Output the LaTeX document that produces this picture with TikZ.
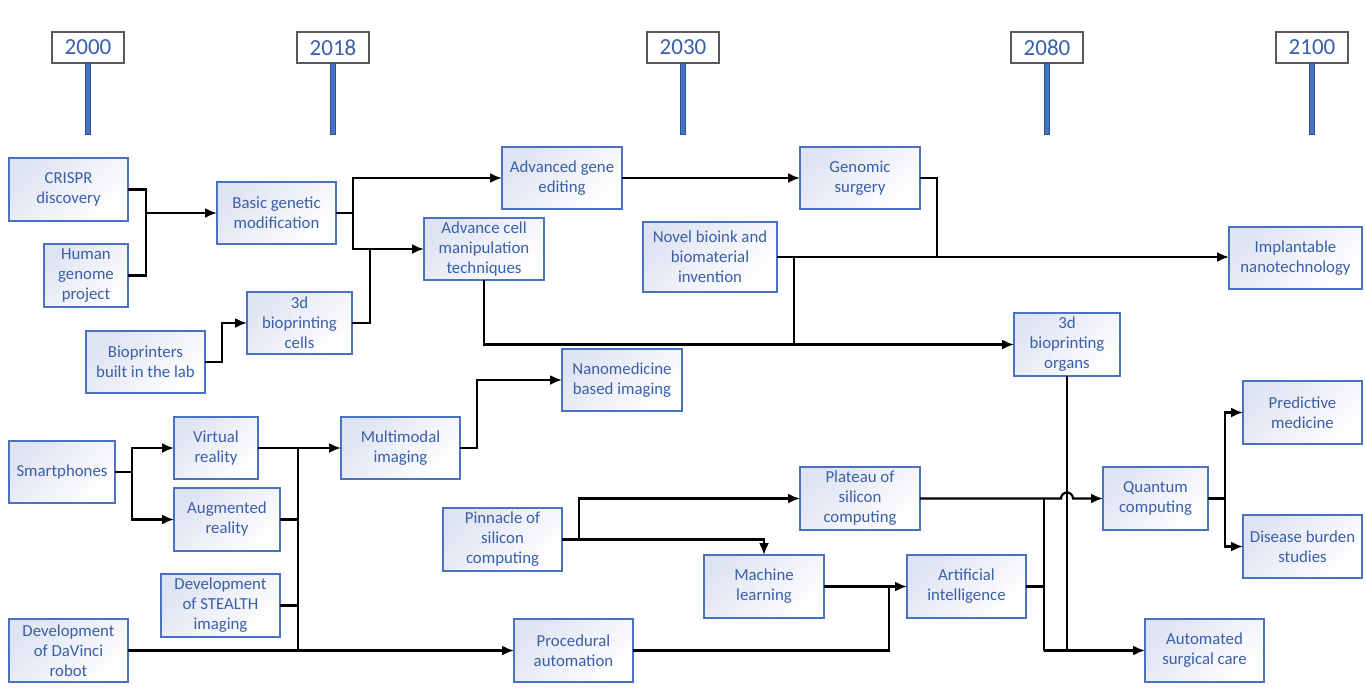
\documentclass[tikz,border=0pt]{standalone}
\usepackage{fontspec}
\setmainfont{Carlito}
\usepackage{tikz}
\usetikzlibrary{arrows.meta,calc,fit,positioning}

\definecolor{boxblue}{HTML}{4A72C0}
\definecolor{txtblue}{HTML}{3A5FA8}
\definecolor{poleblue}{HTML}{4472C4}
\definecolor{boxshade}{HTML}{DFE4F2}
\newcommand\boxfont{\fontsize{16.8}{20}\selectfont}
\newcommand\yearfont{\fontsize{23}{26}\selectfont}

\tikzset{
  box/.style={draw=boxblue, line width=1.3pt, top color=boxshade, bottom color=white, shading angle=45},
  yearbox/.style={draw=black!65, line width=1.2pt, fill=white},
  pole/.style={draw=poleblue!70!black, fill=poleblue, line width=0.6pt, minimum width=5pt, minimum height=71pt, inner sep=0pt},
  every label/.style={align=center, text=txtblue, font=\boxfont}
}

\begin{document}
\begin{tikzpicture}[>={Latex[length=12pt,width=10pt]},x=1pt,y=-1pt,line width=2.2pt, every fit/.style={inner sep=0pt, outer sep=0pt}]
  \useasboundingbox (0,0) rectangle (1366,689);

  % timeline
  \foreach \yr/\x in {2000/88, 2018/333, 2030/683, 2080/1047, 2100/1312}{
    \node (y\yr) [yearbox, fit={(\x-36,32) (\x+36,63)}, label={[font=\yearfont]center:\yr}] {};
    \node (p\yr) [pole, below=0pt of y\yr] {};
  }

  % genetics
  \node (crispr) [box, fit={(9,158) (128,221)}, label=center:{CRISPR\\discovery}] {};
  \node (genome) [box, fit={(44,244) (128,307)}, label=center:{Human\\genome\\project}] {};
  \node (basic) [box, fit={(217,182) (336,244)}, label=center:{Basic genetic\\modification}] {};
  \node (lab) [box, fit={(86,331) (205,393)}, label=center:{Bioprinters\\built in the lab}] {};
  \node (cells) [box, fit={(247,292) (352,354)}, label=center:{3d\\bioprinting\\cells}] {};
  \node (gene) [box, fit={(502,147) (622,209)}, label=center:{Advanced gene\\editing}] {};
  \node (manip) [box, fit={(424,218) (544,280)}, label=center:{Advance cell\\manipulation\\techniques}] {};
  \node (surgery) [box, fit={(800,147) (920,209)}, label=center:{Genomic\\surgery}] {};
  \node (bioink) [box, fit={(643,222) (777,292)}, label=center:{Novel bioink and\\biomaterial\\invention}] {};
  \node (implant) [box, fit={(1229,227) (1362,289)}, label=center:{Implantable\\nanotechnology}] {};
  \node (organs) [box, fit={(1014,313) (1120,376)}, label=center:{3d\\bioprinting\\organs}] {};

  % imaging and computing
  \node (phones) [box, fit={(9,441) (115,503)}, label=center:{Smartphones}] {};
  \node (vr) [box, fit={(174,417) (258,479)}, label=center:{Virtual\\reality}] {};
  \node (ar) [box, fit={(174,488) (280,551)}, label=center:{Augmented\\reality}] {};
  \node (stealth) [box, fit={(161,574) (280,637)}, label=center:{Development\\of STEALTH\\imaging}] {};
  \node (davinci) [box, fit={(9,619) (128,682)}, label=center:{Development\\of DaVinci\\robot}] {};
  \node (multi) [box, fit={(341,417) (460,479)}, label=center:{Multimodal\\imaging}] {};
  \node (nano) [box, fit={(562,349) (682,411)}, label=center:{Nanomedicine\\based imaging}] {};
  \node (proc) [box, fit={(514,619) (633,682)}, label=center:{Procedural\\automation}] {};
  \node (pinnacle) [box, fit={(443,508) (562,571)}, label=center:{Pinnacle of\\silicon\\computing}] {};
  \node (plateau) [box, fit={(800,467) (920,530)}, label=center:{Plateau of\\silicon\\computing}] {};
  \node (ml) [box, fit={(704,555) (824,618)}, label=center:{Machine\\learning}] {};
  \node (ai) [box, fit={(907,555) (1026,618)}, label=center:{Artificial\\intelligence}] {};
  \node (quantum) [box, fit={(1103,467) (1208,530)}, label=center:{Quantum\\computing}] {};
  \node (auto) [box, fit={(1145,619) (1264,682)}, label=center:{Automated\\surgical care}] {};
  \node (predict) [box, fit={(1243,381) (1362,444)}, label=center:{Predictive\\medicine}] {};
  \node (burden) [box, fit={(1243,515) (1362,578)}, label=center:{Disease burden\\studies}] {};

  % junctions
  \coordinate (j1) at (146,213);
  \coordinate (j2) at (353,213);
  \coordinate (j3) at (370,249);
  \coordinate (j4) at (937,257);
  \coordinate (j5) at (794,257);
  \coordinate (j6) at (794,344.5);
  \coordinate (b1) at (298,448);
  \coordinate (b2) at (298,650.5);
  \coordinate (j7) at (889,586.5);
  \coordinate (k1) at (1044,498.5);
  \coordinate (k2) at (1044,650.5);
  \coordinate (q1) at (1225,498.5);

  % connectors
  \draw (crispr.east) -| (j1);
  \draw (genome.east) -| (j1);
  \draw[->] (j1) -- (basic.west);
  \draw (basic.east) -- (j2);
  \draw[->] (j2) |- (gene.west);
  \draw[->] (j2) |- (manip.west);
  \draw[->] (lab.east) -- ++(17,0) |- (cells.west);
  \draw (cells.east) -| (j3);
  \draw[->] (gene.east) -- (surgery.west);
  \draw (surgery.east) -| (j4);
  \draw[->] (bioink.east) -- (bioink.east -| implant.west);
  \draw (j5) -- (j6);
  \draw[->] (manip.south) |- (organs.west);

  \draw[->] (phones.east) -- ++(17,0) |- (vr.west);
  \draw[->] (phones.east) -- ++(17,0) |- (ar.west);
  \draw[->] (vr.east) -- (multi.west);
  \draw (b1) -- (b2);
  \draw (ar.east) -- (ar.east -| b1);
  \draw (stealth.east) -- (stealth.east -| b1);
  \draw[->] (davinci.east) -- (proc.west);
  \draw[->] (multi.east) -- ++(17,0) |- (nano.west);

  \draw[->] (pinnacle.east) -- ++(17,0) |- (plateau.west);
  \draw[->] (pinnacle.east) -| (ml.north);
  \draw[->] (ml.east) -- (ai.west);
  \draw (proc.east) -| (j7);
  \draw (ai.east) -- (ai.east -| k1);
  \draw (k1) -- (k2);
  \draw[->] (k2) -- (auto.west);
  \draw (organs.south) -- (organs.south |- k2);
  \draw[->] (plateau.east) -- ($(organs.south |- k1)+(-6,0)$) arc[start angle=180, end angle=0, radius=6pt] -- (quantum.west);
  \draw (quantum.east) -- (q1);
  \draw[->] (q1) |- (predict.west);
  \draw[->] (q1) |- (burden.west);
\end{tikzpicture}
\end{document}
